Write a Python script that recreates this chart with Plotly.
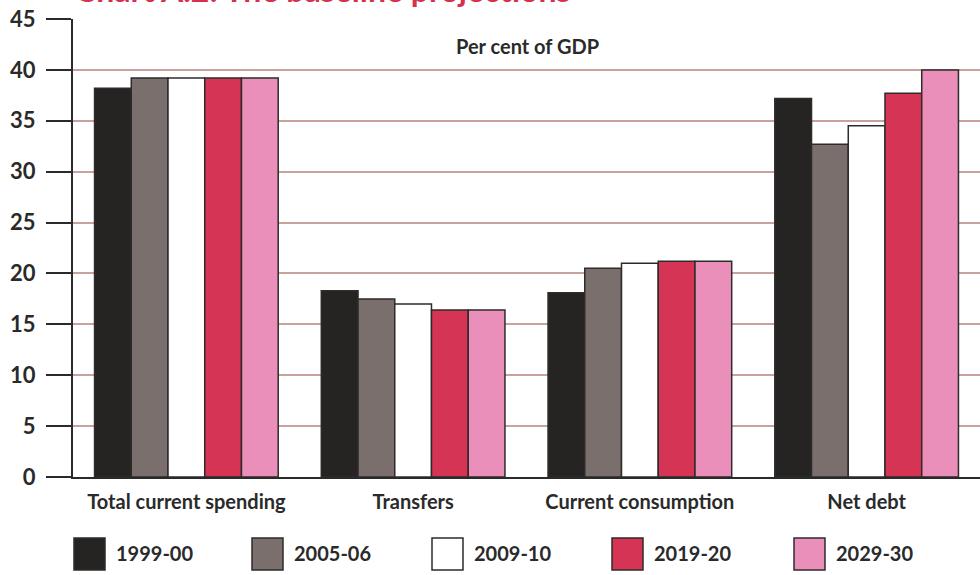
import plotly.graph_objects as go

categories = ["Total current spending", "Transfers", "Current consumption", "Net debt"]
series_names = ["1999-00", "2005-06", "2009-10", "2019-20", "2029-30"]
v_1999 = [38.2, 18.3, 18.1, 37.2]
v_2005 = [39.2, 17.5, 20.5, 32.7]
v_2009 = [39.2, 17.0, 21.0, 34.5]
v_2019 = [39.2, 16.4, 21.2, 37.7]
v_2029 = [39.2, 16.4, 21.2, 40.0]
series_values = [v_1999, v_2005, v_2009, v_2019, v_2029]
y_ticks = [0, 5, 10, 15, 20, 25, 30, 35, 40, 45]
colors = ["#252423", "#7a6f6c", "#ffffff", "#d63454", "#e98fb9"]

FONT = "Lato"
DARK = "#2a2a2a"

fig = go.Figure()
for name, vals, col in zip(series_names, series_values, colors):
    fig.add_trace(go.Bar(
        x=categories, y=vals, name=name,
        marker=dict(color=col, line=dict(color="#2e2b2b", width=1.5)),
        showlegend=False,
    ))

fig.update_layout(
    width=980, height=575,
    margin=dict(l=73, r=0, t=19, b=98),
    paper_bgcolor="white", plot_bgcolor="white",
    barmode="group", bargap=0.19, bargroupgap=0,
    font=dict(family=FONT, color=DARK),
    xaxis=dict(
        showline=True, linecolor=DARK, linewidth=2,
        ticks="", showgrid=False,
        tickfont=dict(family=FONT, size=20, color=DARK, weight="bold"),
        ticklabelstandoff=6,
    ),
    yaxis=dict(
        range=[0, 45], tickvals=y_ticks,
        showline=True, linecolor=DARK, linewidth=2,
        ticks="outside", ticklen=25, tickwidth=2, tickcolor=DARK,
        showgrid=True, gridcolor="#c9a29e", gridwidth=1.5,
        zeroline=False,
        tickfont=dict(family=FONT, size=22, color=DARK, weight="bold"),
        ticklabelstandoff=6,
    ),
)

# Title (cut off at the top, as in the reference)
fig.add_annotation(
    text="<b>Chart A.2: The baseline projections</b>",
    xref="paper", yref="paper", x=0.0, y=1 + 8 / 458,
    xanchor="left", yanchor="bottom", showarrow=False,
    font=dict(family=FONT, size=32, color="#d6304f"),
)

fig.add_annotation(
    text="<b>Per cent of GDP</b>",
    xref="paper", yref="paper", x=(527 - 73) / 907, y=(477 - 46) / 458,
    xanchor="center", yanchor="middle", showarrow=False,
    font=dict(family=FONT, size=20, color=DARK),
)

# Manual legend with large squares
leg_x = [74, 252, 432, 612, 794]
for name, col, lx in zip(series_names, colors, leg_x):
    fig.add_shape(
        type="rect", xref="paper", yref="paper",
        x0=(lx - 73) / 907, x1=(lx + 31 - 73) / 907,
        y0=(477 - 570) / 458, y1=(477 - 538) / 458,
        fillcolor=col, line=dict(color="#2e2b2b", width=1.5),
    )
    fig.add_annotation(
        text="<b>" + name + "</b>", xref="paper", yref="paper",
        x=(lx + 40 - 73) / 907, y=(477 - 553) / 458,
        xanchor="left", yanchor="middle", showarrow=False,
        font=dict(family=FONT, size=20, color=DARK),
    )

fig.write_html("out.html", config={"displayModeBar": False},
               post_script="document.body.style.margin='0px';")
